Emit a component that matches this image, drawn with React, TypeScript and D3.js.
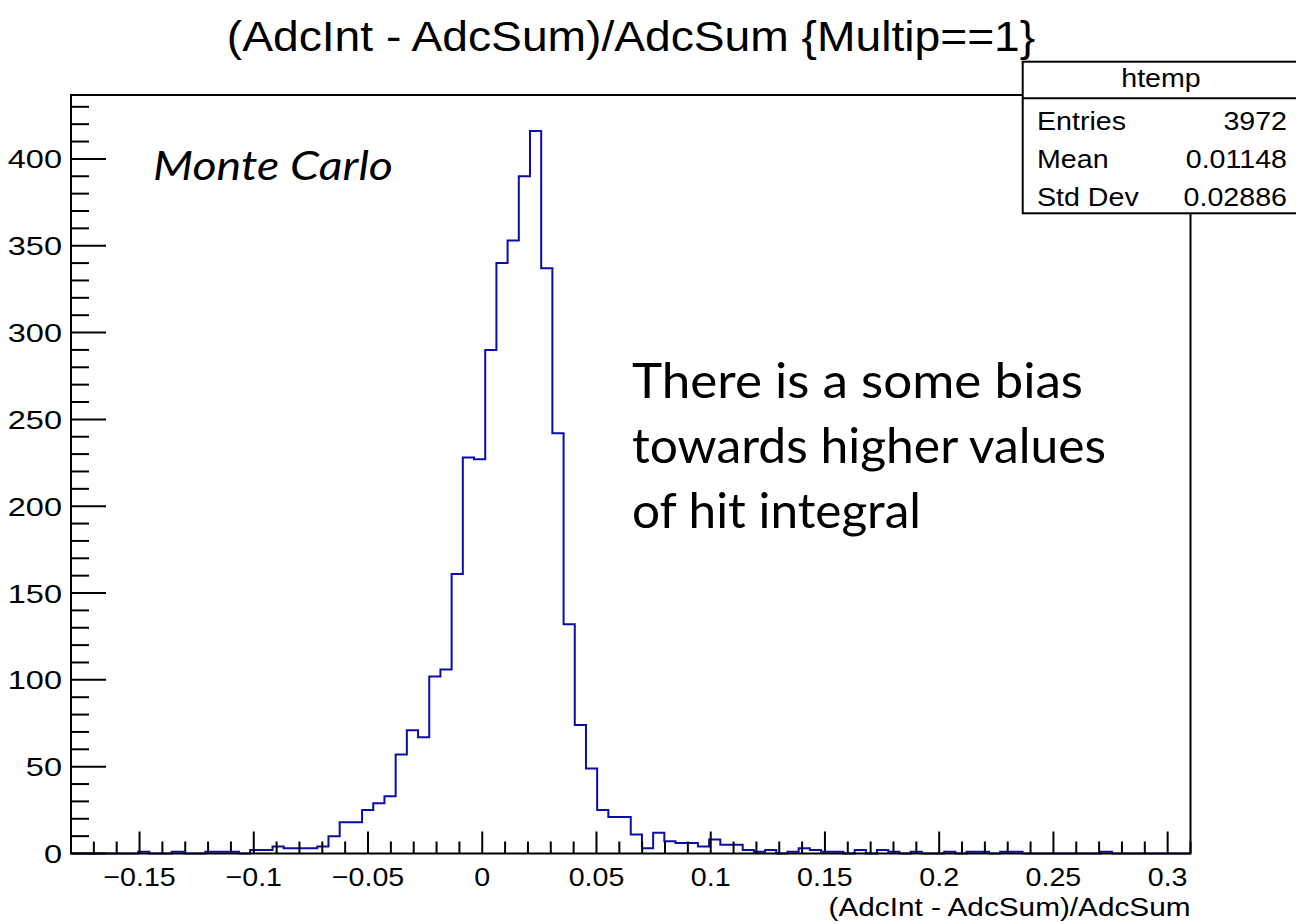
import React from "react";
import * as d3 from "d3";

// Histogram binning of (AdcInt - AdcSum)/AdcSum
const binLow = -0.18;
const binHigh = 0.31;
const counts: number[] = [
  0, 0, 0, 0, 0, 0, 1, 0, 0, 1,
  0, 0, 1, 1, 1, 0, 2, 2, 4, 3,
  3, 3, 4, 10, 18, 18, 25, 29, 33, 57,
  71, 67, 102, 106, 161, 228, 227, 290, 340, 353,
  390, 416, 337, 242, 132, 74, 49, 25, 21, 21,
  11, 3, 12, 7, 6, 6, 4, 8, 5, 5,
  2, 1, 2, 0, 1, 3, 2, 1, 1, 0,
  2, 0, 2, 1, 0, 1, 0, 0, 1, 0,
  1, 1, 0, 1, 1, 0, 0, 0, 0, 0,
  0, 0, 1, 0, 0, 0, 0, 0, 0, 0,
];

const xMajorTicks = [-0.15, -0.1, -0.05, 0, 0.05, 0.1, 0.15, 0.2, 0.25, 0.3];
const xTickLabels = ["\u22120.15", "\u22120.1", "\u22120.05", "0", "0.05", "0.1", "0.15", "0.2", "0.25", "0.3"];
const yMajorTicks = [0, 50, 100, 150, 200, 250, 300, 350, 400];
const yTickLabels = ["0", "50", "100", "150", "200", "250", "300", "350", "400"];

const statsLabels = ["Entries", "Mean", "Std Dev"];
const statsValues = ["3972", "0.01148", "0.02886"];

const noteLines = ["There is a some bias", "towards higher values", "of hit integral"];
const noteWidths = [451, 474, 289];

const W = 1296;
const H = 923;
const frame = { left: 71, right: 1190.5, top: 95, bottom: 853.5 };
const yMax = 436.8;
const rootFont = "'Liberation Sans', Arial, Helvetica, sans-serif";
const noteFont = "Lato, 'Open Sans', sans-serif";

function SText(props: {
  x: number;
  y: number;
  size: number;
  sx?: number;
  anchor?: "start" | "middle" | "end";
  children: React.ReactNode;
}) {
  const sx = props.sx ?? 1.1;
  return (
    <text
      transform={`translate(${props.x},${props.y}) scale(${sx},1)`}
      fontFamily={rootFont}
      fontSize={props.size}
      textAnchor={props.anchor || "start"}
      fill="#000"
    >
      {props.children}
    </text>
  );
}

export default function App() {
  const x = d3.scaleLinear().domain([binLow, binHigh]).range([frame.left, frame.right]);
  const y = d3.scaleLinear().domain([0, yMax]).range([frame.bottom, frame.top]);
  const binWidth = (binHigh - binLow) / counts.length;

  const pts: [number, number][] = [[binLow, 0]];
  counts.forEach((c, i) => pts.push([binLow + i * binWidth, c]));
  pts.push([binHigh, counts[counts.length - 1]]);
  pts.push([binHigh, 0]);
  const line = d3
    .line<[number, number]>()
    .x((d) => x(d[0]))
    .y((d) => y(d[1]))
    .curve(d3.curveStepAfter);

  const xMinor = d3
    .range(-17, 32)
    .map((k) => k / 100)
    .filter((v) => !xMajorTicks.some((m) => Math.abs(m - v) < 1e-6));
  const yMinor = d3.range(10, 440, 10).filter((v) => v % 50 !== 0);

  const boxX = 1022.7;
  const boxTop = 61.7;
  const boxHead = 98.3;
  const boxBottom = 213.3;

  return (
    <svg
      width={W}
      height={H}
      viewBox={`0 0 ${W} ${H}`}
      style={{ display: "block", position: "absolute", left: 0, top: 0, background: "#fff" }}
    >
      <rect x={0} y={0} width={W} height={H} fill="#fff" />
      {/* Title */}
      <SText x={631} y={51} size={42} anchor="middle">
        (AdcInt - AdcSum)/AdcSum {"{Multip==1}"}
      </SText>

      {/* Histogram outline */}
      <path d={line(pts) || ""} fill="none" stroke="#0c0ca6" strokeWidth={2} />

      {/* Frame */}
      <rect
        x={frame.left}
        y={frame.top}
        width={frame.right - frame.left}
        height={frame.bottom - frame.top}
        fill="none"
        stroke="#000"
        strokeWidth={2}
      />

      {/* X axis ticks */}
      {xMajorTicks.map((v) => (
        <line key={"xM" + v} x1={x(v)} x2={x(v)} y1={frame.bottom} y2={frame.bottom - 22} stroke="#000" strokeWidth={2} />
      ))}
      {xMinor.map((v) => (
        <line key={"xm" + v} x1={x(v)} x2={x(v)} y1={frame.bottom} y2={frame.bottom - 12} stroke="#000" strokeWidth={2} />
      ))}
      {xMajorTicks.map((v, i) => (
        <SText key={"xl" + v} x={x(v)} y={886} size={26} anchor="middle">
          {xTickLabels[i]}
        </SText>
      ))}
      <SText x={frame.right} y={916} size={25} sx={1.19} anchor="end">
        (AdcInt - AdcSum)/AdcSum
      </SText>

      {/* Y axis ticks */}
      {yMajorTicks.map((v) => (
        <line key={"yM" + v} x1={frame.left} x2={frame.left + 35} y1={y(v)} y2={y(v)} stroke="#000" strokeWidth={2} />
      ))}
      {yMinor.map((v) => (
        <line key={"ym" + v} x1={frame.left} x2={frame.left + 18} y1={y(v)} y2={y(v)} stroke="#000" strokeWidth={2} />
      ))}
      {yMajorTicks.map((v, i) => (
        <SText key={"yl" + v} x={62} y={y(v) + 9.5} size={26} sx={1.25} anchor="end">
          {yTickLabels[i]}
        </SText>
      ))}

      {/* Statistics box */}
      <rect
        x={boxX}
        y={boxTop}
        width={W - boxX + 10}
        height={boxBottom - boxTop}
        fill="#fff"
        stroke="#000"
        strokeWidth={2}
      />
      <line x1={boxX} x2={W + 10} y1={boxHead} y2={boxHead} stroke="#000" strokeWidth={2} />
      <SText x={1161} y={87} size={26} anchor="middle">
        htemp
      </SText>
      {statsLabels.map((lab, i) => (
        <g key={lab}>
          <SText x={1037} y={130 + i * 38} size={26} anchor="start">
            {lab}
          </SText>
          <SText x={1287} y={130 + i * 38} size={26} anchor="end">
            {statsValues[i]}
          </SText>
        </g>
      ))}

      {/* Annotations */}
      <text
        x={153}
        y={180}
        fontFamily={noteFont}
        fontStyle="italic"
        fontSize={40}
        textLength={240}
        lengthAdjust="spacingAndGlyphs"
      >
        Monte Carlo
      </text>
      {noteLines.map((t, i) => (
        <text
          key={t}
          x={632}
          y={398 + i * 65}
          fontFamily={noteFont}
          fontSize={48}
          textLength={noteWidths[i]}
          lengthAdjust="spacingAndGlyphs"
        >
          {t}
        </text>
      ))}
    </svg>
  );
}
